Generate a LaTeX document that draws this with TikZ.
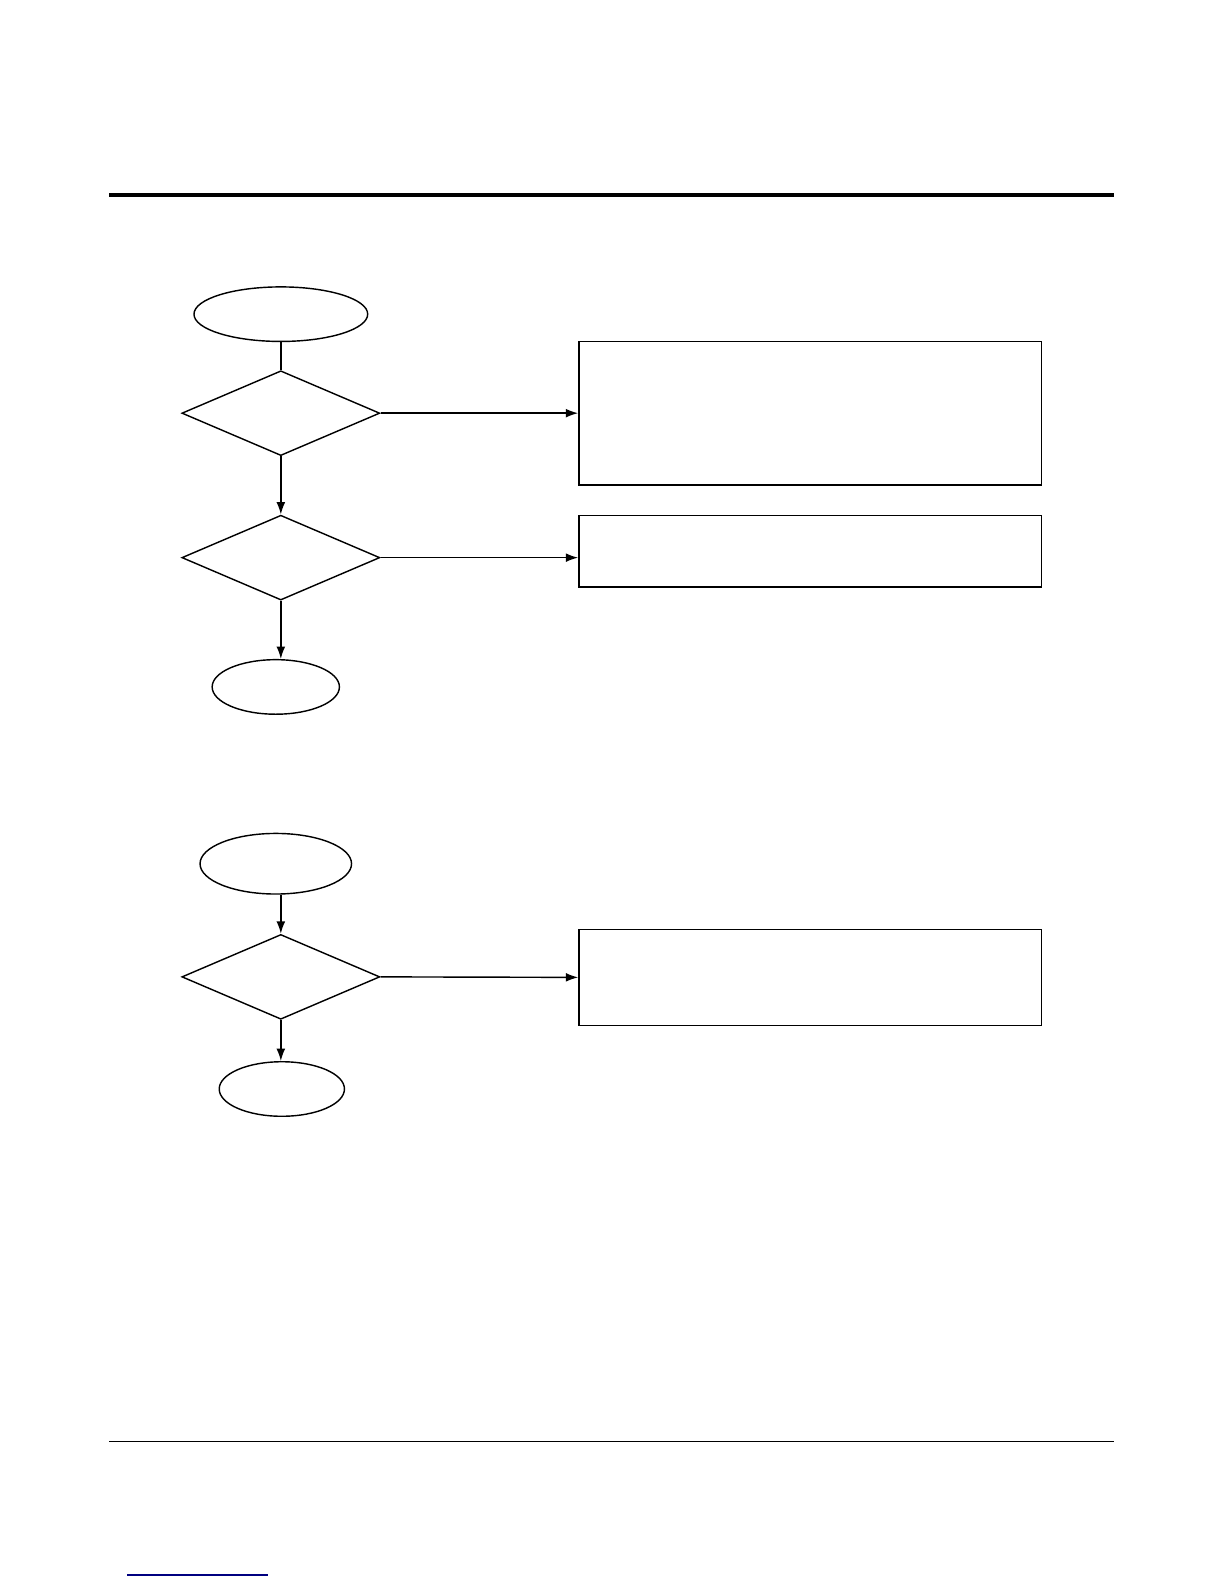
\documentclass[tikz,border=0pt]{standalone}
\usetikzlibrary{shapes.geometric,arrows.meta}
\begin{document}
\begin{tikzpicture}[x=0.02cm, y=-0.02cm]
  \tikzstyle{term}=[ellipse, draw, thick, inner sep=0pt]
  \tikzstyle{test}=[diamond, draw, thick, inner sep=0pt, minimum width=3.92cm, minimum height=1.68cm]
  \tikzstyle{act}=[rectangle, draw, thick, inner sep=0pt, minimum width=9.16cm]
  \tikzstyle{flow}=[draw, thick, -{Latex[length=7pt, width=5pt]}]

  \useasboundingbox (0,0) rectangle (1212,1568);
  \draw[line width=2pt] (108,193) -- (1103,193);
  \draw[thick] (108,1427) -- (1103,1427);
  \draw[blue!50!black, thick] (126,1559) -- (265,1559);

  \node[term, minimum width=3.44cm, minimum height=1.08cm] (s1) at (278,311) {};
  \node[test]                                             (d1) at (278,409) {};
  \node[act, minimum height=2.84cm]                       (b1) at (802,409) {};
  \node[test]                                             (d2) at (278,552) {};
  \node[act, minimum height=1.42cm]                       (b2) at (802,545.5) {};
  \node[term, minimum width=2.52cm, minimum height=1.08cm] (e1) at (273,680) {};

  \node[term, minimum width=3.0cm, minimum height=1.2cm]   (s2) at (273,855) {};
  \node[test]                                             (d3) at (278,967) {};
  \node[act, minimum height=1.9cm]                        (b3) at (802,967.5) {};
  \node[term, minimum width=2.48cm, minimum height=1.08cm] (e2) at (279,1078) {};

  \draw[thick] (s1.south -| d1.north) -- (d1.north);
  \path[flow] (d1.east) -- (b1.west);
  \path[flow] (d1.south) -- (d2.north);
  \path[flow] (d2.east) -- (d2.east -| b2.west);
  \path[flow] (d2.south) -- (d2.south |- e1.north);
  \path[flow] (s2.south -| d3.north) -- (d3.north);
  \path[flow] (d3.east) -- (b3.west);
  \path[flow] (d3.south) -- (d3.south |- e2.north);
\end{tikzpicture}
\end{document}
